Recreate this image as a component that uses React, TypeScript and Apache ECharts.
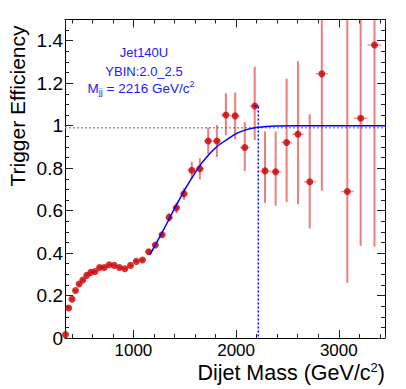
import React, { useEffect, useRef } from 'react';
import * as echarts from 'echarts';

// ---- data ----
const binLow = [325, 354, 386, 419, 453, 489, 526, 565, 606, 649, 693, 740, 788, 838, 890, 944, 1000, 1058, 1118, 1181, 1246, 1313, 1383, 1455, 1530, 1607, 1687, 1770, 1856, 1945, 2037, 2132, 2231, 2332, 2438, 2546, 2659, 2775, 2895, 3019, 3147, 3279];
const binHigh = [354, 386, 419, 453, 489, 526, 565, 606, 649, 693, 740, 788, 838, 890, 944, 1000, 1058, 1118, 1181, 1246, 1313, 1383, 1455, 1530, 1607, 1687, 1770, 1856, 1945, 2037, 2132, 2231, 2332, 2438, 2546, 2659, 2775, 2895, 3019, 3147, 3279, 3416];
const massCenter = [339.5, 370, 402.5, 436, 471, 507.5, 545.5, 585.5, 627.5, 671, 716.5, 764, 813, 864, 917, 972, 1029, 1088, 1149.5, 1213.5, 1279.5, 1348, 1419, 1492.5, 1568.5, 1647, 1728.5, 1813, 1900.5, 1991, 2084.5, 2181.5, 2281.5, 2385, 2492, 2602.5, 2717, 2835, 2957, 3083, 3213, 3347.5];
const efficiency = [0.016, 0.141, 0.183, 0.224, 0.254, 0.273, 0.295, 0.309, 0.313, 0.332, 0.332, 0.345, 0.342, 0.332, 0.326, 0.342, 0.361, 0.367, 0.406, 0.438, 0.486, 0.568, 0.613, 0.679, 0.79, 0.797, 0.928, 0.928, 1.05, 1.046, 0.897, 1.093, 0.787, 0.783, 0.921, 0.96, 0.736, 1.244, null, 0.69, 1.035, 1.38];
const errLow = [0.005, 0.005, 0.005, 0.005, 0.005, 0.005, 0.005, 0.005, 0.005, 0.005, 0.005, 0.005, 0.005, 0.005, 0.005, 0.005, 0.008, 0.008, 0.012, 0.012, 0.012, 0.02, 0.025, 0.028, 0.04, 0.05, 0.063, 0.075, 0.095, 0.11, 0.11, 0.16, 0.15, 0.16, 0.28, 0.33, 0.22, 0.55, null, 0.43, 0.6, 0.95];
const errHigh = [0.005, 0.005, 0.005, 0.005, 0.005, 0.005, 0.005, 0.005, 0.005, 0.005, 0.005, 0.005, 0.005, 0.005, 0.005, 0.005, 0.008, 0.008, 0.012, 0.012, 0.012, 0.02, 0.025, 0.028, 0.04, 0.05, 0.063, 0.075, 0.103, 0.11, 0.12, 0.185, 0.185, 0.19, 0.3, 0.345, 0.318, 0.6, null, 0.9, 0.6, 0.5];

// fit curve samples: [mass, efficiency]
const fitCurve = [
  [1160, 0.392], [1276, 0.494], [1438, 0.643], [1568, 0.753],
  [1729, 0.861], [1924, 0.939], [2087, 0.979], [2249, 0.994], [2379, 0.998],
  [2600, 1.0], [3450, 1.0],
];

const thresholdMass = 2216;
const thresholdLevel = 0.99;
const thresholdBinCenter = 2181.5;
const thresholdBinValue = 1.093;

const xRange = [334, 3450];
const yRange = [0, 1.5];
const xMajorLabels = ['1000', '2000', '3000'];
const legendLines = ['Jet140U', 'YBIN:2.0_2.5'];

const FONT = "Liberation Sans, Arial, Helvetica, sans-serif";
const BLUE = '#1a1aff';

export default function App() {
  const ref = useRef<HTMLDivElement>(null);

  useEffect(() => {
    const chart = echarts.init(ref.current!, null, { renderer: 'svg' });

    const errData: number[][] = [];
    const ptData: number[][] = [];
    for (let i = 0; i < massCenter.length; i++) {
      const e = efficiency[i];
      if (e === null) continue;
      errData.push([massCenter[i], e, errLow[i] as number, errHigh[i] as number, binLow[i], binHigh[i]]);
      ptData.push([massCenter[i], e]);
    }

    const gridBox = { left: 65, right: 21, top: 19.5, bottom: 51 };
    const black = '#000';
    const tickColor = '#222';

    const minorX = (pos: 'bottom' | 'top', gridIndex: number) => ({
      type: 'value', gridIndex, position: pos, min: xRange[0], max: xRange[1], splitNumber: 15,
      axisLine: { show: true, onZero: false, lineStyle: { color: black, width: 1 } },
      axisTick: { show: true, inside: true, length: 4, lineStyle: { color: tickColor, width: 1 } },
      axisLabel: { show: false }, splitLine: { show: false },
    });
    const majorX = (pos: 'bottom' | 'top', gridIndex: number, labels: boolean) => ({
      type: 'value', gridIndex, position: pos, min: xRange[0], max: xRange[1], splitNumber: 3,
      axisLine: { show: false, onZero: false },
      axisTick: { show: true, inside: true, length: 8, lineStyle: { color: tickColor, width: 1 } },
      axisLabel: {
        show: labels, showMinLabel: false, showMaxLabel: false, margin: 4,
        fontSize: 17, fontFamily: FONT, color: '#000',
        formatter: (v: number) => {
          const s = String(Math.round(v));
          return xMajorLabels.indexOf(s) >= 0 ? s : '';
        },
      },
      splitLine: { show: false },
    });
    const minorY = (pos: 'left' | 'right', gridIndex: number) => ({
      type: 'value', gridIndex, position: pos, min: yRange[0], max: yRange[1], interval: 0.05,
      axisLine: { show: true, onZero: false, lineStyle: { color: black, width: 1 } },
      axisTick: { show: true, inside: true, length: 4, lineStyle: { color: tickColor, width: 1 } },
      axisLabel: { show: false }, splitLine: { show: false },
    });
    const majorY = (pos: 'left' | 'right', gridIndex: number, labels: boolean) => ({
      type: 'value', gridIndex, position: pos, min: yRange[0], max: yRange[1], interval: 0.2,
      axisLine: { show: false, onZero: false },
      axisTick: { show: true, inside: true, length: 8, lineStyle: { color: tickColor, width: 1 } },
      axisLabel: {
        show: labels, showMaxLabel: false, margin: 2, fontSize: 19, fontFamily: FONT, color: '#000',
        formatter: (v: number) => String(+v.toFixed(1)),
      },
      splitLine: { show: false },
    });

    const legendStyle = (text: string) => ({
      text, fill: BLUE, fontSize: 13, fontFamily: FONT, align: 'center', verticalAlign: 'middle',
    });

    const option: any = {
      animation: false,
      backgroundColor: '#fff',
      grid: [{ ...gridBox }, { ...gridBox }],
      xAxis: [minorX('bottom', 0), minorX('top', 0), majorX('bottom', 1, true), majorX('top', 1, false)],
      yAxis: [minorY('left', 0), minorY('right', 0), majorY('left', 1, true), majorY('right', 1, false)],
      series: [
        {
          type: 'line', xAxisIndex: 0, yAxisIndex: 0, z: 1,
          data: [[xRange[0], thresholdLevel], [xRange[1], thresholdLevel]],
          showSymbol: false, symbol: 'none', silent: true,
          lineStyle: { color: '#9a9a9a', width: 1.5, type: [2, 2] },
        },
        {
          type: 'custom', xAxisIndex: 0, yAxisIndex: 0, z: 2, clip: true,
          data: errData, encode: { x: 0, y: 1 },
          renderItem: (params: any, api: any) => {
            const x = api.value(0), y = api.value(1);
            const lo = api.value(2), hi = api.value(3);
            const xl = api.value(4), xh = api.value(5);
            const top = api.coord([x, y + hi]);
            const bot = api.coord([x, y - lo]);
            const l = api.coord([xl, y]);
            const r = api.coord([xh, y]);
            return {
              type: 'group',
              children: [
                { type: 'line', shape: { x1: top[0], y1: top[1], x2: bot[0], y2: bot[1] }, style: { stroke: 'rgba(222,40,40,0.6)', lineWidth: 2 } },
                { type: 'line', shape: { x1: l[0], y1: l[1], x2: r[0], y2: r[1] }, style: { stroke: 'rgba(222,40,40,0.45)', lineWidth: 1.5 } },
              ],
            };
          },
        },
        {
          type: 'scatter', xAxisIndex: 0, yAxisIndex: 0, z: 3,
          data: ptData, symbol: 'circle', symbolSize: 7,
          itemStyle: { color: '#cc0000' },
        },
        {
          type: 'line', xAxisIndex: 0, yAxisIndex: 0, z: 4,
          data: fitCurve, showSymbol: false, symbol: 'none', smooth: 0.5,
          lineStyle: { color: '#0000ff', width: 1.5 },
        },
        {
          type: 'line', xAxisIndex: 0, yAxisIndex: 0, z: 5,
          data: [[thresholdBinCenter, thresholdBinValue], [thresholdMass, thresholdBinValue], [thresholdMass, 0]],
          showSymbol: false, symbol: 'none',
          lineStyle: { color: '#0000ff', width: 1.5, type: [2, 2] },
        },
      ],
      graphic: [
        { type: 'text', x: 144, y: 52.5, style: legendStyle(legendLines[0]) },
        { type: 'text', x: 144, y: 71, style: legendStyle(legendLines[1]) },
        {
          type: 'text', x: 141, y: 88,
          style: {
            text: `{m|M}{s|jj}{n| = ${thresholdMass} GeV/c}{p|2}`,
            align: 'center', verticalAlign: 'middle',
            rich: {
              m: { fontSize: 13.5, fontFamily: FONT, fill: BLUE, lineHeight: 17 },
              n: { fontSize: 13.5, fontFamily: FONT, fill: BLUE, lineHeight: 17 },
              s: { fontSize: 9, fontFamily: FONT, fill: BLUE, lineHeight: 8, verticalAlign: 'bottom' },
              p: { fontSize: 9, fontFamily: FONT, fill: BLUE, lineHeight: 8, verticalAlign: 'top' },
            },
          },
        },
        {
          type: 'text', x: 385, y: 373,
          style: {
            text: '{a|Dijet Mass (GeV/c}{p|2}{a|)}',
            align: 'right', verticalAlign: 'middle',
            rich: {
              a: { fontSize: 21.5, fontFamily: FONT, fill: '#000', lineHeight: 24 },
              p: { fontSize: 13, fontFamily: FONT, fill: '#000', lineHeight: 13, verticalAlign: 'top' },
            },
          },
        },
        {
          type: 'text', x: 17, y: 106, rotation: Math.PI / 2,
          style: { text: 'Trigger Efficiency', fill: '#000', fontSize: 21, fontFamily: FONT, align: 'center', verticalAlign: 'middle' },
        },
      ],
    };

    chart.setOption(option);
    return () => chart.dispose();
  }, []);

  return <div ref={ref} style={{ position: 'fixed', left: 0, top: 0, width: 406, height: 389 }} />;
}
